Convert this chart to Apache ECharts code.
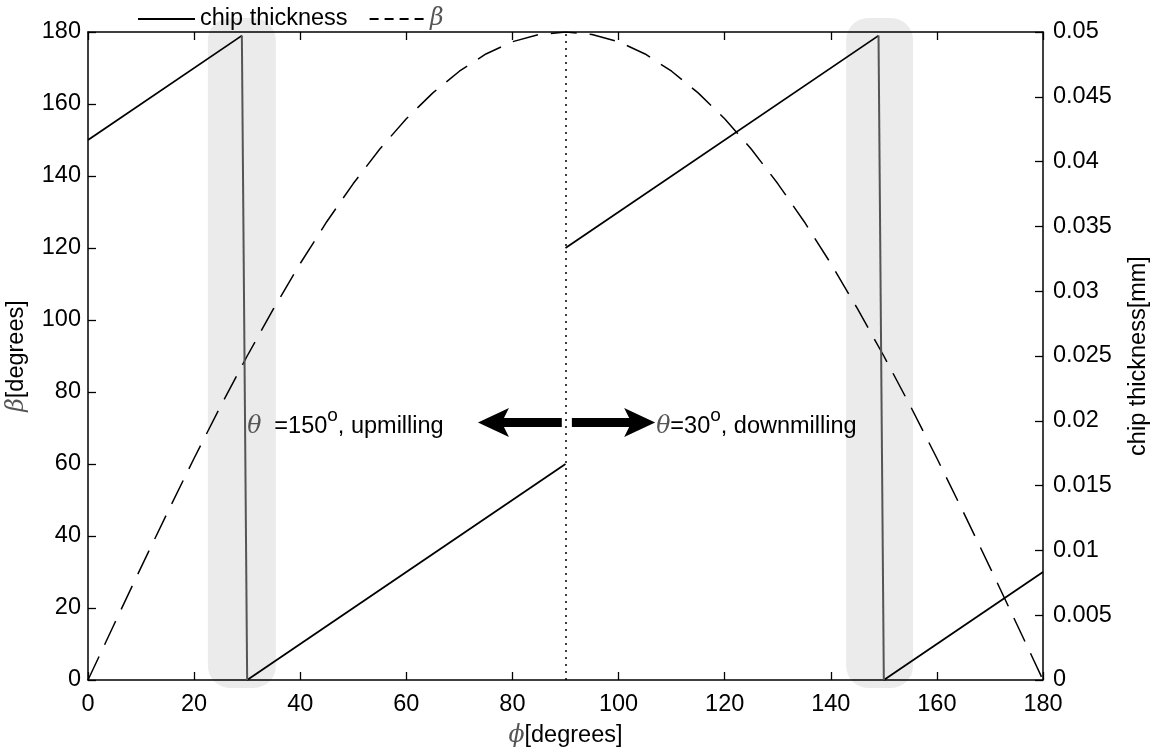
<!DOCTYPE html>
<html>
<head>
<meta charset="utf-8">
<title>chip thickness</title>
<script src="https://cdn.jsdelivr.net/npm/echarts@6/dist/echarts.min.js"></script>
<style>
  html, body { margin:0; padding:0; background:#fff; }
  #main { width:1166px; height:755px; }
</style>
</head>
<body>
<div id="main"></div>
<script>
// chip thickness polyline (phi in degrees, thickness in mm)
var chipPhi = [0, 29, 30, 90, 90, 149, 150, 180];
var chipVal = [0.04167, 0.04972, 0, 0.01667, 0.03333, 0.04972, 0, 0.00833];
// beta curve read every 5 degrees
var betaPhi = [0, 5, 10, 15, 20, 25, 30, 35, 40, 45, 50, 55, 60, 65, 70, 75, 80, 85, 90,
               95, 100, 105, 110, 115, 120, 125, 130, 135, 140, 145, 150, 155, 160, 165, 170, 175, 180];
var betaVal = [0, 15.7, 31.3, 46.6, 61.6, 76.1, 90, 103.2, 115.7, 127.3, 137.9, 147.5, 155.9, 163.1, 169.1, 173.9, 177.3, 179.3, 180,
               179.3, 177.3, 173.9, 169.1, 163.1, 155.9, 147.5, 137.9, 127.3, 115.7, 103.2, 90, 76.1, 61.6, 46.6, 31.3, 15.7, 0];
// shaded bands around the jumps
var bandLo = [22.6, 142.9];
var bandHi = [35.4, 155.5];
// double arrow (tail at the dotted line, tip outward) and the two notes
var arrowTail = [89.3, 91.2];
var arrowTip = [73.5, 106.9];
var arrowY = 71.5;
var noteX = [30, 107.1];
var noteText = ['{t|θ}{n|  =150}{s|o}{n|, upmilling}', '{t|θ}{n|=30}{s|o}{n|, downmilling}'];

var font = 'Liberation Sans, Arial, Helvetica, sans-serif';
var fs = 23.5;
var greek = { fontFamily: 'DejaVu Serif, Liberation Serif, serif', fontStyle: 'italic', color: '#555', fontSize: fs };
var plain = { fontFamily: font, color: '#000', fontSize: fs };

var chart = echarts.init(document.getElementById('main'));

function pairs(i, j) {
    return [[chipPhi[i], chipVal[i]], [chipPhi[j], chipVal[j]]];
}

var series = [];
series.push({
    type: 'custom',
    name: 'bands',
    xAxisIndex: 0, yAxisIndex: 0,
    clip: false,
    z: 0,
    silent: true,
    data: bandLo.map(function (v, i) { return [v, bandHi[i]]; }),
    renderItem: function (params, api) {
        var a = api.coord([api.value(0), 180]);
        var b = api.coord([api.value(1), 0]);
        return {
            type: 'rect',
            shape: { x: a[0], y: a[1] - 14, width: b[0] - a[0], height: b[1] - a[1] + 22, r: 22 },
            style: { fill: '#ebebeb' }
        };
    }
});
// rising parts
[[0, 1], [2, 3], [4, 5], [6, 7]].forEach(function (p) {
    series.push({
        name: 'chip thickness', type: 'line', yAxisIndex: 1, symbol: 'none',
        lineStyle: { color: '#000', width: 1.8 }, itemStyle: { color: '#000' },
        data: pairs(p[0], p[1]), z: 3
    });
});
// jumps
[[1, 2], [5, 6]].forEach(function (p) {
    series.push({
        name: 'jump', type: 'line', yAxisIndex: 1, symbol: 'none',
        lineStyle: { color: '#555', width: 2 },
        data: pairs(p[0], p[1]), z: 3
    });
});
series.push({
    name: 'β', type: 'line', yAxisIndex: 0, symbol: 'none',
    lineStyle: { color: '#000', width: 1.5, type: [26, 13] }, itemStyle: { color: '#000' },
    data: betaPhi.map(function (v, i) { return [v, betaVal[i]]; }),
    z: 2,
    markLine: {
        silent: true,
        symbol: ['none', 'none'],
        label: { show: false },
        lineStyle: { color: '#000', width: 1.5, type: [2, 5] },
        data: [{ xAxis: 90 }]
    }
});
// arrows
series.push({
    type: 'custom', name: 'arrows', xAxisIndex: 0, yAxisIndex: 0, silent: true, z: 4,
    data: arrowTail.map(function (v, i) { return [v, arrowTip[i], arrowY]; }),
    renderItem: function (params, api) {
        var t = api.coord([api.value(0), api.value(2)]);
        var h = api.coord([api.value(1), api.value(2)]);
        var d = h[0] > t[0] ? 1 : -1;
        var y = t[1];
        var base = h[0] - d * 31;
        var notch = base + d * 5;
        return {
            type: 'polygon',
            shape: { points: [
                [t[0], y - 4.5], [notch, y - 4.5], [base, y - 14.5], [h[0], y],
                [base, y + 14.5], [notch, y + 4.5], [t[0], y + 4.5]
            ] },
            style: { fill: '#000' }
        };
    }
});
// annotations
series.push({
    name: 'notes', type: 'scatter', yAxisIndex: 0, symbolSize: 0, silent: true, z: 5,
    itemStyle: { opacity: 1 },
    data: noteX.map(function (x, i) {
        return { value: [x, arrowY], label: { formatter: noteText[i] } };
    }),
    label: {
        show: true, position: 'right', distance: 0,
        color: '#000', fontSize: fs, fontFamily: font,
        rich: {
            t: Object.assign({}, greek, { lineHeight: 32, verticalAlign: 'bottom' }),
            n: Object.assign({}, plain, { lineHeight: 32, verticalAlign: 'bottom' }),
            s: { fontSize: 19, fontFamily: font, color: '#000', verticalAlign: 'top', lineHeight: 18 }
        }
    }
});

function tick() { return { show: true, inside: true, length: 8, lineStyle: { color: '#000', width: 1.3 } }; }
function line() { return { show: true, onZero: false, lineStyle: { color: '#000', width: 1.5 } }; }

chart.setOption({
    animation: false,
    backgroundColor: '#fff',
    legend: {
        left: 133, top: 2,
        itemWidth: 57, itemHeight: 2, itemGap: 22,
        textStyle: { fontSize: fs, fontFamily: font, color: '#000', rich: { b: greek } },
        formatter: function (n) { return n === 'β' ? '{b|β}' : n; },
        data: [
            { name: 'chip thickness', icon: 'path://M0,0H57V2H0Z' },
            { name: 'β', icon: 'path://M0,0H9V2H0Z M15,0H24V2H15Z M30,0H39V2H30Z M45,0H54V2H45Z' }
        ]
    },
    grid: { left: 88, right: 123, top: 32, bottom: 75, outerBoundsMode: 'none' },
    xAxis: [{
        type: 'value', min: 0, max: 180, interval: 20,
        name: '{b|ϕ}{n|[degrees]}', nameLocation: 'middle', nameGap: 44,
        nameTextStyle: { fontSize: fs, fontFamily: font, color: '#000', rich: { b: greek, n: plain } },
        axisLine: line(), axisTick: tick(),
        axisLabel: { color: '#000', fontSize: fs, fontFamily: font, margin: 13 },
        splitLine: { show: false }
    }, {
        type: 'value', min: 0, max: 180, interval: 20, position: 'top',
        axisLine: line(), axisTick: tick(), axisLabel: { show: false }, splitLine: { show: false }
    }],
    yAxis: [{
        type: 'value', min: 0, max: 180, interval: 20,
        name: '{b|β}{n|[degrees]}', nameLocation: 'middle', nameGap: 59,
        nameTextStyle: { fontSize: fs, fontFamily: font, color: '#000', rich: { b: greek, n: plain } },
        axisLine: line(), axisTick: tick(),
        axisLabel: { color: '#000', fontSize: fs, fontFamily: font, margin: 7 },
        splitLine: { show: false }
    }, {
        type: 'value', min: 0, max: 0.05, interval: 0.005, position: 'right',
        name: 'chip thickness[mm]', nameLocation: 'middle', nameGap: 84,
        nameTextStyle: { fontSize: fs, fontFamily: font, color: '#000' },
        axisLine: line(), axisTick: tick(),
        axisLabel: { color: '#000', fontSize: fs, fontFamily: font, margin: 10 },
        splitLine: { show: false }
    }],
    series: series
});
</script>
</body>
</html>
